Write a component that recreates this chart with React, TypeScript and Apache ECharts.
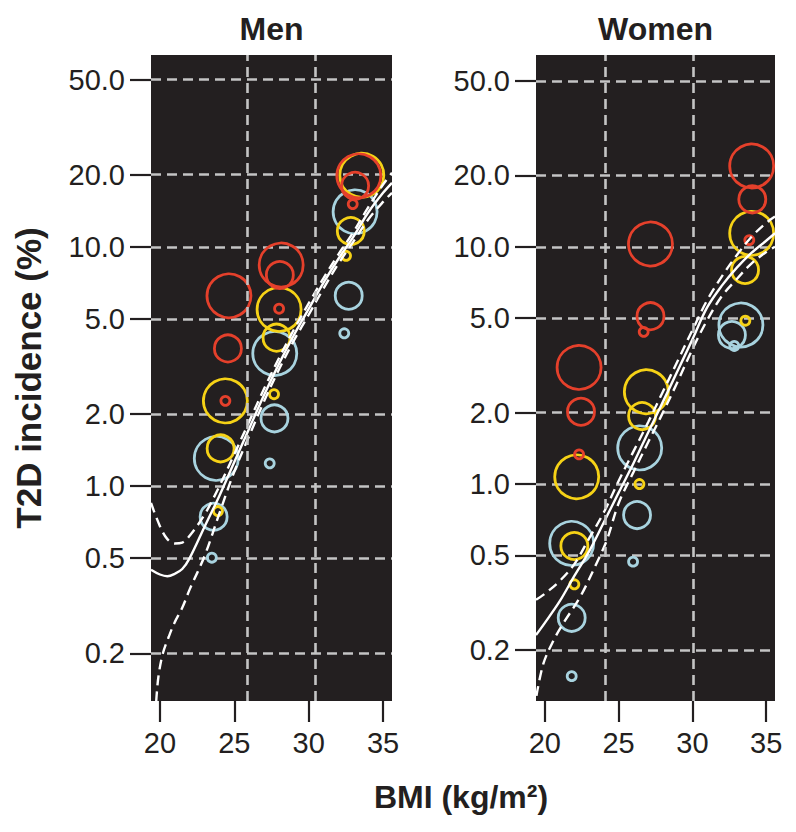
import React, { useEffect, useRef } from 'react';
import * as echarts from 'echarts';

// ---------- axes ----------
const yTicks = [0.2, 0.5, 1, 2, 5, 10, 20, 50];
const xTicks = [20, 25, 30, 35];

// ---------- reference (vertical dashed) lines ----------
const menRefBMI = [25.9, 30.45];
const womenRefBMI = [24.1, 30.07];

// ---------- Men: circles (size class 1=small, 2=medium, 3=large) ----------
const menRedBMI = [33.37, 28.15, 24.64, 33.12, 28.06, 24.57, 32.96, 28.01, 24.4];
const menRedInc = [19.8, 8.39, 6.24, 17.98, 7.62, 3.76, 15.08, 5.51, 2.27];
const menRedSize = [3, 3, 3, 2, 2, 2, 1, 1, 1];

const menYellowBMI = [33.57, 28.01, 24.4, 32.83, 27.84, 24.08, 32.51, 27.67, 23.9];
const menYellowInc = [19.9, 5.47, 2.27, 11.63, 4.17, 1.437, 9.17, 2.42, 0.786];
const menYellowSize = [3, 3, 3, 2, 2, 2, 1, 1, 1];

const menBlueBMI = [33.12, 27.72, 23.79, 32.69, 27.7, 23.61, 32.39, 27.38, 23.49];
const menBlueInc = [14.0, 3.58, 1.305, 6.24, 1.918, 0.744, 4.35, 1.244, 0.502];
const menBlueSize = [3, 3, 3, 2, 2, 2, 1, 1, 1];

// ---------- Women: circles ----------
const womenRedBMI = [34.02, 34.06, 33.86, 27.16, 27.16, 26.7, 22.32, 22.45, 22.32];
const womenRedInc = [21.9, 15.84, 10.67, 10.27, 5.1, 4.38, 3.1, 2.017, 1.334];
const womenRedSize = [3, 2, 1, 3, 2, 1, 3, 2, 1];

const womenYellowBMI = [34.02, 33.57, 33.59, 26.88, 26.59, 26.41, 22.16, 22.0, 22.0];
const womenYellowInc = [11.39, 7.98, 4.88, 2.449, 1.934, 1.0, 1.073, 0.548, 0.378];
const womenYellowSize = [3, 2, 1, 3, 2, 1, 3, 2, 1];

const womenBlueBMI = [33.29, 32.68, 32.84, 26.43, 26.25, 25.98, 21.82, 21.82, 21.82];
const womenBlueInc = [4.68, 4.25, 3.82, 1.42, 0.74, 0.471, 0.562, 0.273, 0.155];
const womenBlueSize = [3, 2, 1, 3, 2, 1, 3, 2, 1];

// ---------- Men: fitted curve and confidence band ----------
const menFitBMI = [19.4, 20, 20.5, 21, 21.5, 22, 23, 24, 25, 26, 27, 28, 29, 30, 31, 32, 33, 34, 35, 35.6];
const menFit = [0.447, 0.427, 0.42, 0.43, 0.45, 0.5, 0.676, 0.912, 1.26, 1.74, 2.4, 3.24, 4.27, 5.5, 7.08, 8.91, 11.0, 13.9, 16.8, 18.5];
const menUpper = [0.85, 0.68, 0.6, 0.575, 0.58, 0.62, 0.76, 1.0, 1.36, 1.86, 2.55, 3.42, 4.5, 5.8, 7.4, 9.3, 11.5, 14.6, 18.2, 20.4];
const menLowerBMI = [19.75, 19.9, 20.2, 20.6, 21, 21.5, 22, 23, 24, 25, 26, 27, 28, 29, 30, 31, 32, 33, 34, 35, 35.6];
const menLower = [0.126, 0.16, 0.2, 0.235, 0.27, 0.31, 0.37, 0.51, 0.77, 1.15, 1.62, 2.26, 3.07, 4.05, 5.2, 6.7, 8.5, 10.5, 13.0, 15.4, 16.8];

// ---------- Women: fitted curve and confidence band ----------
const womenFitBMI = [19.4, 20, 21, 22, 23, 24, 25, 26, 27, 28, 29, 30, 31, 32, 33, 34, 35, 35.6];
const womenFit = [0.231, 0.26, 0.32, 0.41, 0.52, 0.69, 0.92, 1.22, 1.65, 2.22, 3.0, 4.07, 5.55, 6.86, 8.15, 9.42, 10.6, 11.4];
const womenUpper = [0.325, 0.345, 0.39, 0.46, 0.59, 0.76, 1.03, 1.37, 1.82, 2.45, 3.3, 4.45, 5.95, 7.5, 9.2, 11.0, 12.6, 13.4];
const womenLowerBMI = [19.43, 19.9, 20.6, 21.25, 22.4, 23.5, 24.2, 25, 26, 27, 28, 29, 30, 31, 32, 33, 34, 35, 35.6];
const womenLower = [0.128, 0.175, 0.22, 0.259, 0.335, 0.463, 0.58, 0.83, 1.12, 1.5, 2.0, 2.7, 3.7, 4.9, 6.2, 7.3, 8.5, 9.5, 10.0];

// ---------- styling ----------
const FONT = '"Liberation Sans", Arial, Helvetica, sans-serif';
const INK = '#231f20';
const PANEL = '#231f20';
const GRIDCOL = '#c4c4c4';
const RED = '#e5402b';
const YELLOW = '#f6d216';
const BLUE = '#a8d3df';
const SIZE_PX = [0, 9, 27, 44];

const zip = (xs: number[], ys: number[]) => xs.map((x, i) => [x, ys[i]]);

function circles(xs: number[], ys: number[], sizes: number[], color: string, gi: number, z: number) {
  return {
    type: 'scatter',
    xAxisIndex: gi,
    yAxisIndex: gi,
    data: xs.map((x, i) => ({ value: [x, ys[i]], symbolSize: SIZE_PX[sizes[i]] })),
    symbol: 'circle',
    itemStyle: { color: 'rgba(0,0,0,0)', borderColor: color, borderWidth: 2.8, opacity: 1 },
    emphasis: { disabled: true },
    silent: true,
    z,
  };
}

function curve(xs: number[], ys: number[], gi: number, dashed: boolean) {
  return {
    type: 'line',
    xAxisIndex: gi,
    yAxisIndex: gi,
    data: zip(xs, ys),
    showSymbol: false,
    symbol: 'none',
    smooth: 0.35,
    clip: true,
    silent: true,
    lineStyle: { color: '#ffffff', width: 2.4, type: dashed ? [10, 6] : 'solid' },
    z: 4,
  };
}

function refLines(values: number[], gi: number) {
  return {
    type: 'line',
    xAxisIndex: gi,
    yAxisIndex: gi,
    data: [],
    silent: true,
    z: 1,
    markLine: {
      silent: true,
      symbol: 'none',
      label: { show: false },
      lineStyle: { color: GRIDCOL, width: 2.6, type: [10, 6] },
      data: values.map((v) => ({ xAxis: v })),
    },
  };
}

export default function App() {
  const ref = useRef<HTMLDivElement>(null);

  useEffect(() => {
    if (!ref.current) return;
    const chart = echarts.init(ref.current, null, { renderer: 'svg' });

    const yRanges = [
      [0.1264, 63.3],
      [0.1218, 64.3],
    ];

    const option: any = {
      animation: false,
      grid: [
        { left: 151, top: 55, width: 241, height: 646, show: true, backgroundColor: PANEL, borderWidth: 0 },
        { left: 536, top: 55, width: 239, height: 646, show: true, backgroundColor: PANEL, borderWidth: 0 },
      ],
      xAxis: [0, 1].map((gi) => ({
        gridIndex: gi,
        type: 'value',
        min: 19.4,
        max: 35.6,
        axisLine: { show: false },
        axisTick: { show: true, length: 21, customValues: xTicks, lineStyle: { color: INK, width: 2.2 } },
        axisLabel: { customValues: xTicks, margin: 27, fontSize: 29, color: INK, fontFamily: FONT },
        splitLine: { show: false },
      })),
      yAxis: [0, 1].map((gi) => ({
        gridIndex: gi,
        type: 'log',
        logBase: 10,
        min: yRanges[gi][0],
        max: yRanges[gi][1],
        axisLine: { show: false },
        axisTick: { show: true, length: 21, customValues: yTicks, lineStyle: { color: INK, width: 2.2 } },
        axisLabel: {
          customValues: yTicks,
          margin: 26,
          fontSize: 29,
          color: INK,
          fontFamily: FONT,
          formatter: (v: number) => Number(v).toFixed(1),
        },
        splitLine: { show: true, lineStyle: { color: GRIDCOL, width: 2.6, type: [10, 6] } },
      })),
      graphic: [
        {
          type: 'text', x: 271.5, y: 29,
          style: { text: 'Men', font: `bold 32px ${FONT}`, fill: INK, textAlign: 'center', textVerticalAlign: 'middle' },
        },
        {
          type: 'text', x: 655.5, y: 29,
          style: { text: 'Women', font: `bold 32px ${FONT}`, fill: INK, textAlign: 'center', textVerticalAlign: 'middle' },
        },
        {
          type: 'text', x: 461, y: 797,
          style: { text: 'BMI (kg/m²)', font: `bold 32px ${FONT}`, fill: INK, textAlign: 'center', textVerticalAlign: 'middle' },
        },
        {
          type: 'text', x: 28, y: 378, rotation: Math.PI / 2,
          style: { text: 'T2D incidence (%)', font: `bold 35px ${FONT}`, fill: INK, textAlign: 'center', textVerticalAlign: 'middle' },
        },
      ],
      series: [
        refLines(menRefBMI, 0),
        refLines(womenRefBMI, 1),
        circles(menBlueBMI, menBlueInc, menBlueSize, BLUE, 0, 2),
        circles(menYellowBMI, menYellowInc, menYellowSize, YELLOW, 0, 2),
        circles(menRedBMI, menRedInc, menRedSize, RED, 0, 2),
        circles(womenBlueBMI, womenBlueInc, womenBlueSize, BLUE, 1, 2),
        circles(womenYellowBMI, womenYellowInc, womenYellowSize, YELLOW, 1, 2),
        circles(womenRedBMI, womenRedInc, womenRedSize, RED, 1, 2),
        curve(menFitBMI, menFit, 0, false),
        curve(menFitBMI, menUpper, 0, true),
        curve(menLowerBMI, menLower, 0, true),
        curve(womenFitBMI, womenFit, 1, false),
        curve(womenFitBMI, womenUpper, 1, true),
        curve(womenLowerBMI, womenLower, 1, true),
      ],
    };

    chart.setOption(option);
    return () => chart.dispose();
  }, []);

  return (
    <div
      ref={ref}
      style={{ position: 'fixed', left: 0, top: 0, width: 796, height: 832, background: '#ffffff' }}
    />
  );
}
